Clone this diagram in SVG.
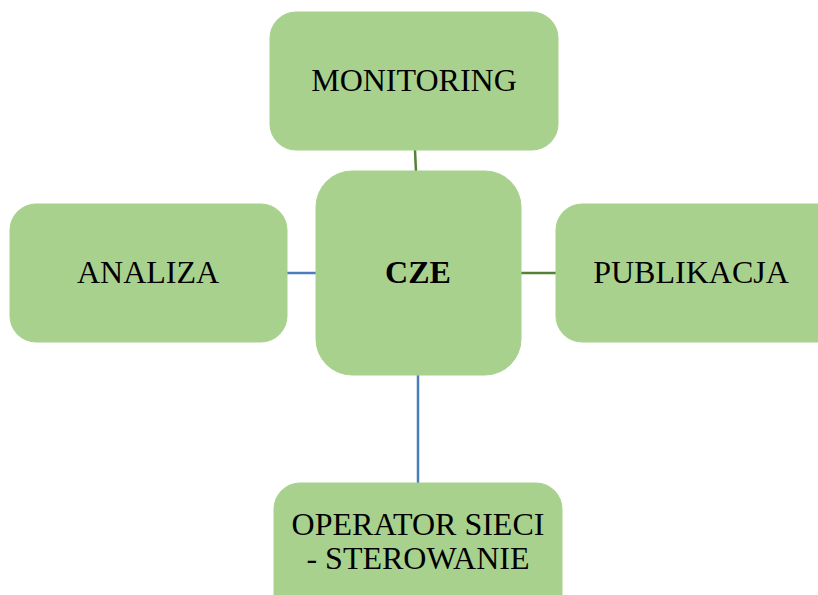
<svg xmlns="http://www.w3.org/2000/svg" width="818" height="595" viewBox="0 0 818 595">
<style>
.box{fill:#a9d18e;stroke:#a9d18e;stroke-width:1}
.t{font-family:"Liberation Serif","Times New Roman",serif;font-size:32px;fill:#000;text-anchor:middle}
.b{font-weight:bold}
.g{stroke:#548235;stroke-width:2.5;fill:none}
.bl{stroke:#4a7ebb;stroke-width:2.5;fill:none}
</style>
<rect width="818" height="595" fill="#fff"/>
<g id="connectors">
<line class="g" x1="415" y1="150" x2="416" y2="172"/>
<line class="bl" x1="287" y1="273" x2="317" y2="273"/>
<line class="g" x1="520" y1="273" x2="556" y2="273"/>
<line class="bl" x1="418" y1="375" x2="418" y2="484"/>
</g>
<g id="monitoring">
<rect class="box" x="270" y="12" width="288" height="138" rx="26"/>
<text class="t" x="414" y="91">MONITORING</text>
</g>
<g id="cze">
<rect class="box" x="316" y="171" width="205" height="204" rx="36"/>
<text class="t b" x="418" y="283">CZE</text>
</g>
<g id="analiza">
<rect class="box" x="10" y="204" width="277" height="138" rx="26"/>
<text class="t" x="148" y="283">ANALIZA</text>
</g>
<g id="publikacja">
<rect class="box" x="556" y="204" width="290" height="138" rx="26"/>
<text class="t" x="691" y="283">PUBLIKACJA</text>
</g>
<g id="operator">
<rect class="box" x="274" y="483" width="288" height="138" rx="26"/>
<text class="t" x="418" y="535">OPERATOR SIECI</text>
<text class="t" x="418" y="569">- STEROWANIE</text>
</g>
</svg>
